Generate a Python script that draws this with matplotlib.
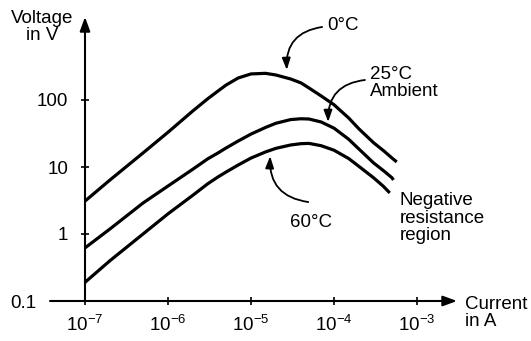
import numpy as np
import matplotlib
matplotlib.use("Agg")
import matplotlib.pyplot as plt
from matplotlib.transforms import ScaledTranslation

plt.rcParams['font.family'] = ['Liberation Sans', 'DejaVu Sans']
plt.rcParams['mathtext.fontset'] = 'custom'
plt.rcParams['mathtext.rm'] = 'Liberation Sans'
plt.rcParams['mathtext.it'] = 'Liberation Sans:italic'
plt.rcParams['mathtext.bf'] = 'Liberation Sans:bold'

# current (A) and voltage (V)
current_0c = [1e-7, 2e-7, 5e-7, 1e-6, 2e-6, 3e-6, 4e-6, 5e-6, 7e-6, 1e-5, 1.5e-5,
              2e-5, 3e-5, 4e-5, 5e-5, 7e-5, 1e-4, 1.5e-4, 2e-4, 3e-4, 4e-4,
              5e-4, 5.7e-4]
voltage_0c = [3.1, 6.4, 16.2, 33, 69, 104, 136, 167, 213, 245, 250,
              236, 206, 180, 151, 115, 85, 54, 37, 23, 17.3,
              13.6, 11.9]

current_25c = [1e-7, 2e-7, 5e-7, 1e-6, 2e-6, 3e-6, 4e-6, 5e-6, 7e-6, 1e-5, 1.5e-5,
               2e-5, 3e-5, 4e-5, 5e-5, 7e-5, 1e-4, 1.5e-4, 2e-4, 3e-4, 4e-4,
               5e-4, 5.2e-4]
voltage_25c = [0.62, 1.19, 2.9, 5.2, 9.3, 13.2, 16.2, 19.2, 24.4, 31, 39,
               45, 51, 52.5, 52, 47, 38, 26, 18.5, 11.5, 8.7,
               6.9, 6.4]

current_60c = [1e-7, 2e-7, 5e-7, 1e-6, 2e-6, 3e-6, 4e-6, 5e-6, 7e-6, 1e-5, 1.5e-5,
               2e-5, 3e-5, 4e-5, 5e-5, 7e-5, 1e-4, 1.5e-4, 2e-4, 3e-4, 3.9e-4,
               4.7e-4]
voltage_60c = [0.19, 0.40, 1.0, 2.0, 3.8, 5.6, 7.1, 8.4, 10.7, 13.6, 16.8,
               19, 21.3, 22.3, 22.5, 20.8, 17.8, 13.4, 10.2, 6.9, 5.2,
               4.1]

x_ticks = [1e-7, 1e-6, 1e-5, 1e-4, 1e-3]
x_labels = ['$10^{-7}$', '$10^{-6}$', '$10^{-5}$', '$10^{-4}$', '$10^{-3}$']
y_ticks = [0.1, 1, 10, 100]
y_labels = ['0.1', '1', '10', '100']

fs = 13.5
fig = plt.figure(figsize=(5.31, 3.41), dpi=100)
ax = fig.add_axes([50/531, 40/341, 407/531, 284/341])
ax.set_xscale('log')
ax.set_yscale('log')
ax.set_xlim(10**(-7 - 35/83), 10**(-7 + 372/83))
ax.set_ylim(0.1, 10**(-1 + 284/67))

for cur, volt in [(current_0c, voltage_0c), (current_25c, voltage_25c),
                  (current_60c, voltage_60c)]:
    ax.plot(cur, volt, color='black', lw=2.3, solid_capstyle='butt',
            solid_joinstyle='round')

# axes drawn as arrows
for s in ax.spines.values():
    s.set_visible(False)
ax.spines['left'].set_position(('data', 1e-7))
ax.annotate('', xy=(1, 0), xytext=(0, 0), xycoords='axes fraction',
            arrowprops=dict(arrowstyle='-|>,head_length=0.6,head_width=0.22',
                            color='black', lw=1.5, mutation_scale=14,
                            shrinkA=0, shrinkB=0), annotation_clip=False)
ax.annotate('', xy=(1e-7, ax.get_ylim()[1]), xytext=(1e-7, 0.1),
            xycoords='data',
            arrowprops=dict(arrowstyle='-|>,head_length=0.6,head_width=0.22',
                            color='black', lw=1.5, mutation_scale=14,
                            shrinkA=0, shrinkB=0), annotation_clip=False)

ax.minorticks_off()
ax.set_xticks(x_ticks)
ax.set_xticklabels(x_labels, fontsize=fs)
ax.set_yticks(y_ticks)
ax.set_yticklabels(y_labels, fontsize=fs)
ax.tick_params(direction='inout', length=6, width=1.2, colors='black')
ax.tick_params(axis='y', pad=9)
ax.tick_params(axis='x', pad=7)
lab0 = ax.get_yticklabels()[0]
lab0.set_transform(lab0.get_transform() + ScaledTranslation(-0.32, 0, fig.dpi_scale_trans))

# curve labels with curved arrows
arrow_kw = dict(arrowstyle='-|>,head_length=0.5,head_width=0.18', color='black',
                lw=1.3, mutation_scale=14, shrinkA=0, shrinkB=0)
ax.annotate('', xy=(2.7e-5, 281), xytext=(7.2e-5, 1230),
            arrowprops=dict(connectionstyle='arc3,rad=0.45', **arrow_kw),
            annotation_clip=False)
ax.text(8.2e-5, 1315, '0°C', fontsize=fs, va='center', ha='left')

ax.annotate('', xy=(8.5e-5, 47), xytext=(2.36e-4, 199),
            arrowprops=dict(connectionstyle='arc3,rad=0.45', **arrow_kw))
ax.text(2.7e-4, 180, '25°C\nAmbient', fontsize=fs, va='center', ha='left',
        linespacing=1.05)

ax.annotate('', xy=(1.7e-5, 14.5), xytext=(4.9e-5, 3.0),
            arrowprops=dict(connectionstyle='arc3,rad=-0.45', **arrow_kw))
ax.text(5.3e-5, 1.51, '60°C', fontsize=fs, va='center', ha='center')

ax.text(6.2e-4, 1.73, 'Negative\nresistance\nregion', fontsize=fs,
        va='center', ha='left', linespacing=1.05)

fig.text(42/531, 1 - 27/341, 'Voltage\nin V', fontsize=fs, ha='center',
         va='center', linespacing=1.05)
fig.text(465/531, 1 - 313/341, 'Current\nin A', fontsize=fs, ha='left',
         va='center', linespacing=1.05)

fig.savefig('out.png', dpi=100)
